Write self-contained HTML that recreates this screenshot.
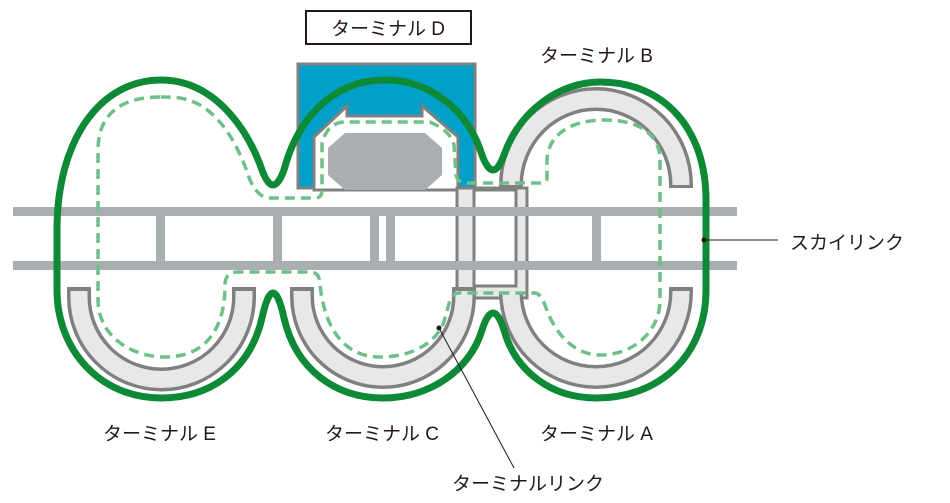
<!DOCTYPE html>
<html><head><meta charset="utf-8"><style>
html,body{margin:0;padding:0;background:#fff;width:950px;height:503px;overflow:hidden}
svg text{font-family:"Liberation Sans","Noto Sans CJK JP",sans-serif;font-size:19px;fill:#231815}
</style></head><body>
<svg width="950" height="503" viewBox="0 0 950 503" xmlns="http://www.w3.org/2000/svg">
<!-- Terminal D -->
<rect x="298" y="64" width="177" height="124" fill="#00a0c8" stroke="#808080" stroke-width="3"/>
<path d="M314,190 L314,137 L347,106 L347,116 L422,116 L422,106 L458,137 L458,190 Z" fill="#fff" stroke="#808080" stroke-width="3"/>
<polygon points="345,133 425,133 442,148 442,175 425,190 345,190 328,175 328,148" fill="#a9afb1"/>
<!-- link block -->
<rect x="457" y="188" width="70" height="110" fill="#e8e8e8" stroke="#808080" stroke-width="3"/>
<rect x="474" y="190" width="42" height="96" fill="#fff" stroke="#808080" stroke-width="3"/>
<!-- rings -->
<g fill="none">
<g stroke="#808080" stroke-width="24">
<path d="M79,287 L79,297 A82.5,82.5 0 0 0 244,297 L244,287"/>
<path d="M302,287 L302,296 A81,81 0 0 0 464,296 L464,287"/>
<path d="M511,296 L511,292 A85,85 0 0 0 681,292 L681,287"/>
<path d="M511,188 L511,185 A85,86 0 0 1 681,185 L681,188"/>
</g>
<g stroke="#e8e8e8" stroke-width="17">
<path d="M79,291 L79,297 A82.5,82.5 0 0 0 244,297 L244,291"/>
<path d="M302,291 L302,296 A81,81 0 0 0 464,296 L464,291"/>
<path d="M511,299 L511,292 A85,85 0 0 0 681,292 L681,291"/>
<path d="M511,185 A85,86 0 0 1 681,185 L681,184"/>
</g>
</g>
<!-- skylink -->
<g fill="#a9afb1">
<rect x="13" y="207" width="724" height="9"/>
<rect x="13" y="261" width="724" height="9"/>
<rect x="156" y="216" width="9" height="45"/>
<rect x="273" y="216" width="9" height="45"/>
<rect x="370" y="216" width="9" height="45"/>
<rect x="386" y="216" width="9" height="45"/>
<rect x="592" y="216" width="9" height="45"/>
</g>
<g fill="none">
<path d="M57,230 C57,140 100,80 161,80 C215,80 248,130 262,170 Q273,200 284,170 C300,110 340,80 385,80 C430,80 468,110 482,155 Q493,185 504,155 C520,110 560,82 600,82 C665,82 706,130 706,200 L706,290 C706,355 660,398 596,398 C550,398 515,370 504,330 Q493,296 482,330 C470,370 430,398 383,398 C336,398 296,370 284,318 Q273,268 262,318 C250,370 210,398 161,398 C100,398 57,350 57,290 Z" stroke="#0e8a37" stroke-width="7"/>
<path d="M160,97 C120,97 98,115 98,150 L98,300 C98,335 130,357 165,357 C205,357 225,330 225,285 Q225,272 238,272 L310,272 Q320,272 320,285 C325,330 345,357 380,357 C415,357 440,340 445,318 L450,300 Q452,293 460,293 L535,293 Q540,293 545,305 C555,335 575,355 600,355 C635,355 660,330 660,300 L660,160 C660,135 640,120 605,120 C570,120 548,135 547,160 L547,178 Q547,183 540,183 L465,183 Q458,183 456,175 L454,145 Q452,135 440,127 L430,122 L345,122 Q335,122 328,130 L322,140 L322,190 Q322,198 315,198 L270,198 Q258,198 250,180 C240,150 225,120 200,105 C185,97 175,97 160,97 Z" stroke="#6fbf88" stroke-width="3.5" stroke-dasharray="10 6"/>
</g>
<!-- leaders -->
<line x1="704" y1="240" x2="778" y2="240" stroke="#231815" stroke-width="1"/>
<circle cx="704" cy="240" r="2.5" fill="#231815"/>
<line x1="439" y1="328" x2="514" y2="468" stroke="#231815" stroke-width="1"/>
<circle cx="439" cy="328" r="2.5" fill="#231815"/>
<!-- labels -->
<rect x="306" y="11" width="165" height="33" fill="#fff" stroke="#231815" stroke-width="2"/>
<text x="388" y="35" text-anchor="middle">ターミナル D</text>
<text x="540" y="62">ターミナル B</text>
<text x="790" y="249">スカイリンク</text>
<text x="103" y="440">ターミナル E</text>
<text x="325" y="440">ターミナル C</text>
<text x="540" y="440">ターミナル A</text>
<text x="452" y="490">ターミナルリンク</text>
</svg>
</body></html>
